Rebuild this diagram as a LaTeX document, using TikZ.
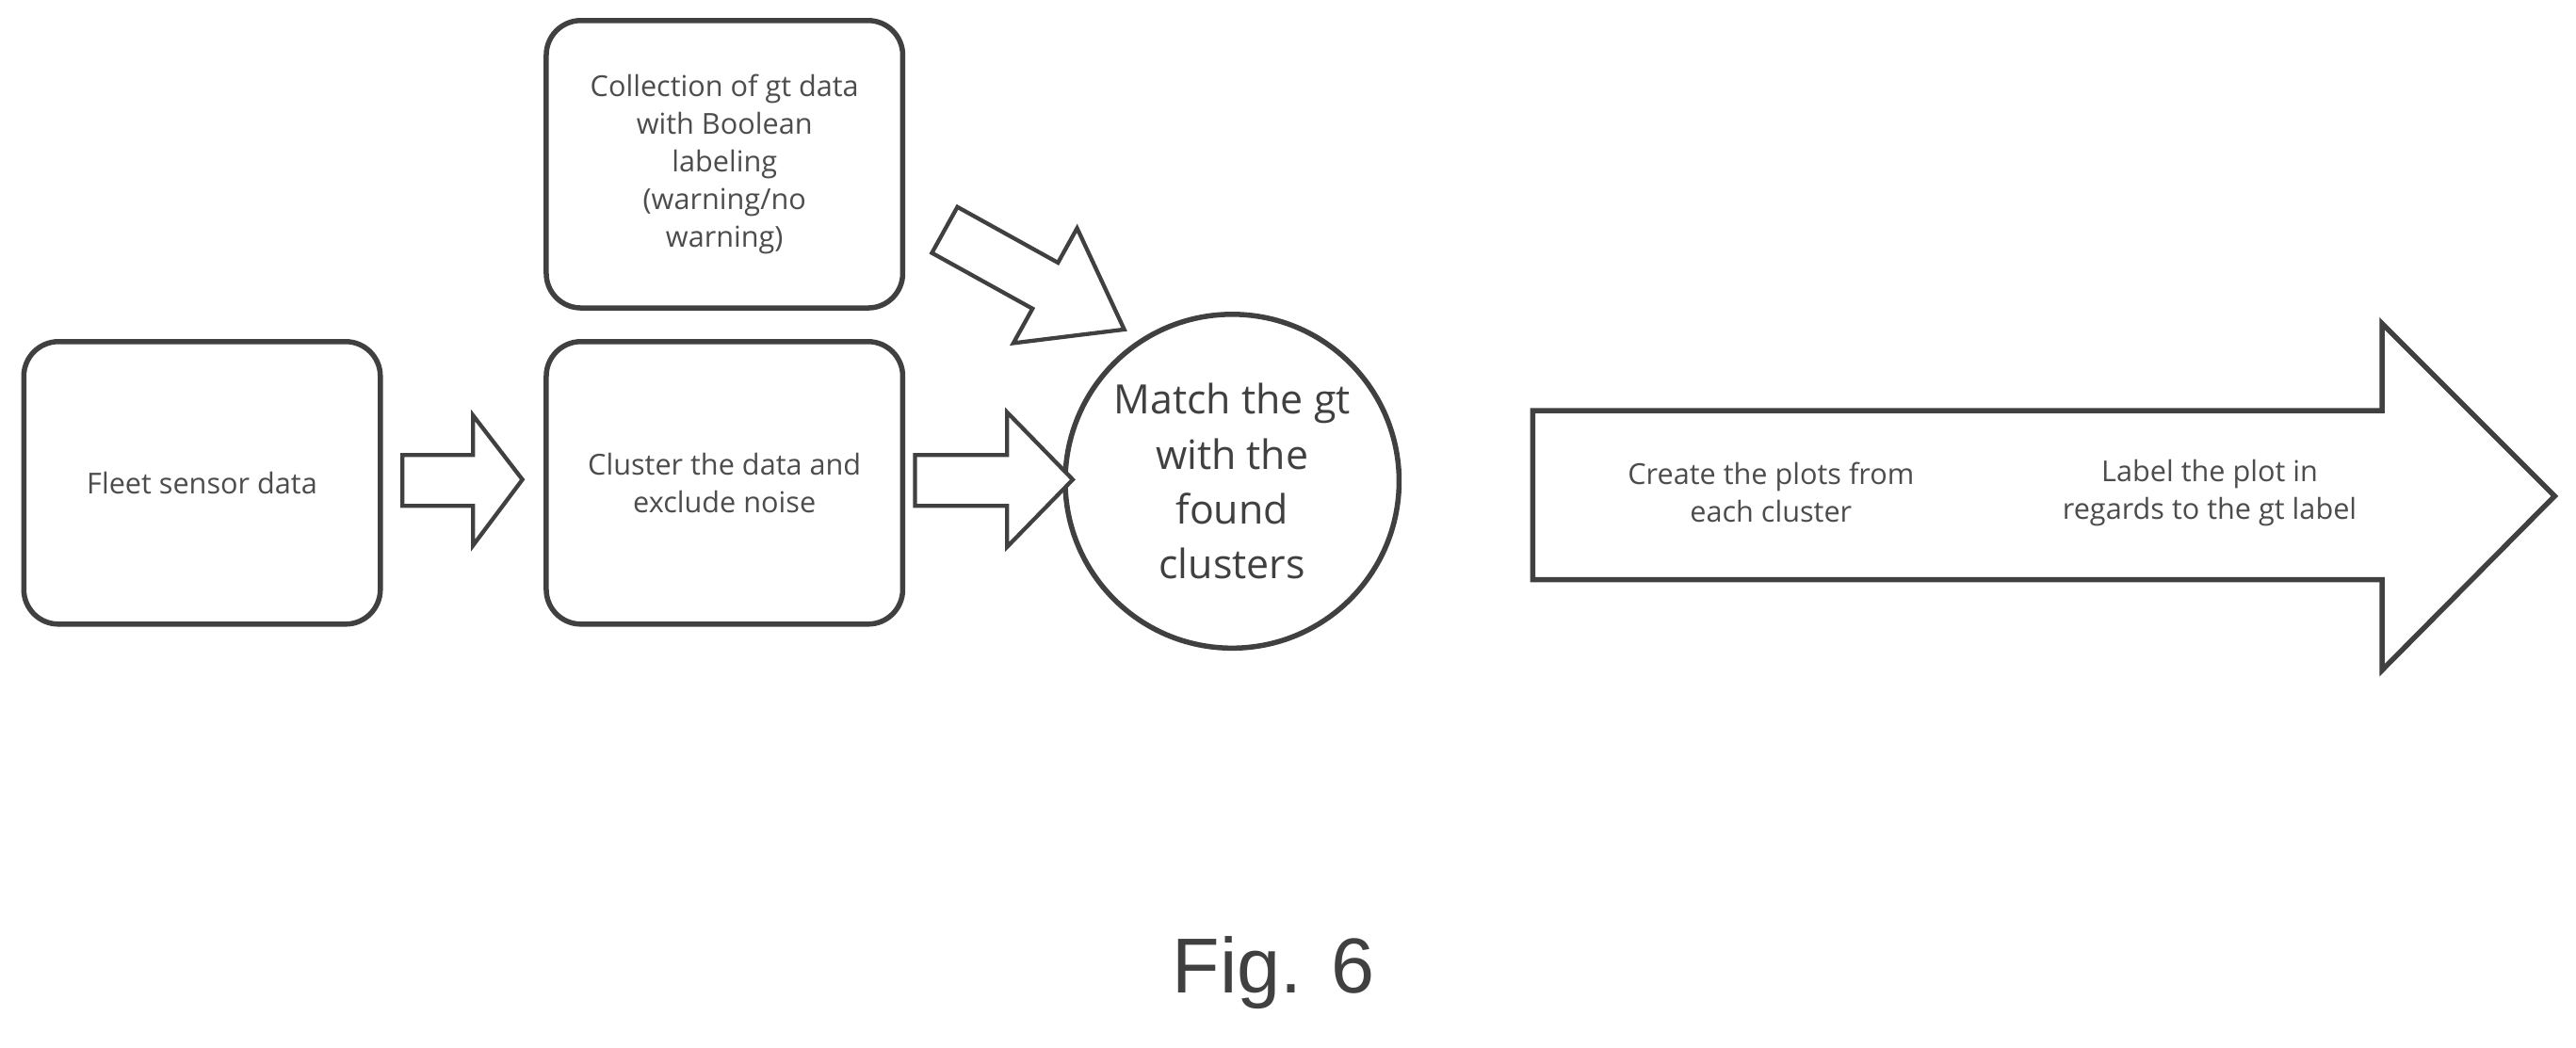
\documentclass[tikz,border=0pt]{standalone}
\usepackage{fontspec}
\setmainfont{Open Sans}
\newfontfamily\figfont{Liberation Sans}
\begin{document}
\begin{tikzpicture}[x=0.02cm,y=-0.02cm,
  box/.style={draw=black!75,line width=1.8pt,rounded corners=12pt,align=center,font=\fontsize{10}{13}\selectfont,text=black!70},
  blk/.style={draw=black!75,line width=1.4pt,fill=white,line join=miter},
  lbl/.style={align=center,font=\fontsize{10}{13}\selectfont,text=black!70}]
\useasboundingbox (0,0) rectangle (1568,638);
\node[box,minimum width=217*0.02cm,minimum height=172*0.02cm] (fleet) at (123,294) {Fleet sensor data};
\node[box,minimum width=217*0.02cm,minimum height=175*0.02cm] (gt) at (441,100) {Collection of gt data\\with Boolean\\labeling\\(warning/no\\warning)};
\node[box,minimum width=217*0.02cm,minimum height=172*0.02cm] (clu) at (441,294) {Cluster the data and\\exclude noise};
\node[draw=black!75,line width=1.8pt,circle,minimum size=180*0.02cm,align=center,font=\fontsize{14}{19}\selectfont,text=black!75] (match) at (750,293) {Match the gt\\with the\\found\\clusters};
% block arrows
\draw[blk] (245,277)--(288,277)--(288,253)--(318,292)--(288,332)--(288,308)--(245,308)--cycle;
\draw[blk] (557,277)--(613,277)--(613,251)--(653,292)--(613,333)--(613,308)--(557,308)--cycle;
\begin{scope}[shift={(575,140)},rotate=-29]
\draw[blk] (0,-16)--(70,-16)--(70,-40)--(125,0)--(70,40)--(70,16)--(0,16)--cycle;
\end{scope}
\draw[blk,line width=1.8pt] (933,250)--(1450,250)--(1450,197)--(1555,302)--(1450,408)--(1450,353)--(933,353)--cycle;
\node[lbl] (t1) at (1078,300) {Create the plots from\\each cluster};
\node[lbl] (t2) at (1345,300) {Label the plot in\\regards to the gt label};
\node[font=\figfont\fontsize{27}{30}\selectfont,text=black!75] (fig) at (775,592) {Fig. 6};
\end{tikzpicture}
\end{document}
